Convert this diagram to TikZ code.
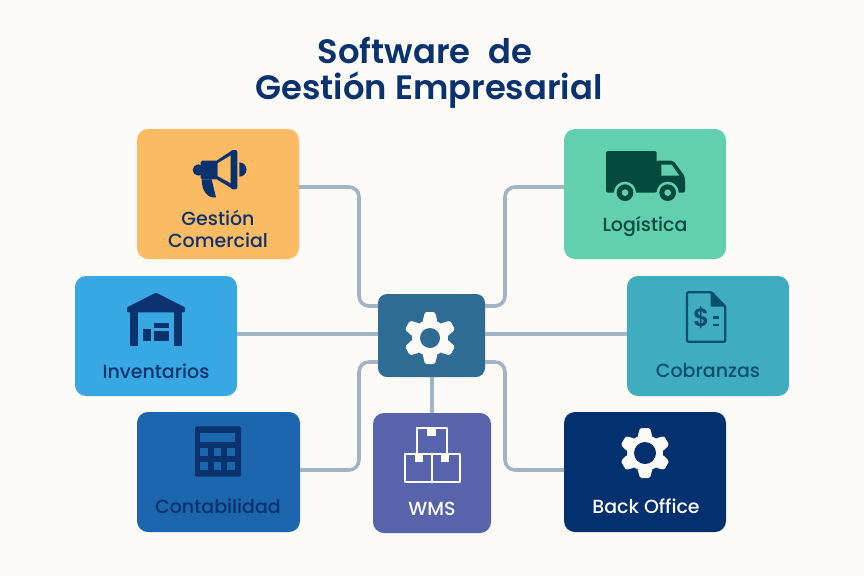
\documentclass[tikz,border=0pt]{standalone}
\usepackage{fontspec}
\setmainfont{Poppins Medium}
\newfontfamily\titlefont{Poppins SemiBold}
\definecolor{bgc}{HTML}{FDFBF7}
\definecolor{navy}{HTML}{0A326E}
\definecolor{linkc}{HTML}{A3B4C5}
\definecolor{ccom}{HTML}{FDBB63}
\definecolor{clog}{HTML}{62D0AE}
\definecolor{cinv}{HTML}{38A8E3}
\definecolor{ccob}{HTML}{40ACBF}
\definecolor{ccon}{HTML}{1C66AE}
\definecolor{cbak}{HTML}{03306F}
\definecolor{cwms}{HTML}{5763AA}
\definecolor{ccen}{HTML}{2F6C93}
\definecolor{dgreen}{HTML}{054A3C}
\definecolor{dteal}{HTML}{0B4F6E}
\definecolor{white2}{HTML}{FDFBF7}
\tikzset{
  boxn/.style={rounded corners=11pt,inner sep=0pt,outer sep=0pt,fill=#1},
  link/.style={draw=linkc,line width=3.6pt,rounded corners=10pt},
  lab/.style={font=\fontsize{19}{22}\selectfont,inner sep=0pt,text=#1,align=center},
  ttl/.style={font=\titlefont\fontsize{33.8}{40}\selectfont,inner sep=0pt,text=navy,align=center}
}
\newcommand{\gearicon}[7]{% x y outer body hole colour holecolour
  \begin{scope}[shift={(#1,#2)}]
    \fill[#6] (0,0) circle[radius=#4];
    \foreach \a in {30,90,150,210,270,330}{
      \fill[#6,rounded corners=1.5pt,rotate=\a] (#4-2,-7.5) -- (#3,-5) -- (#3,5) -- (#4-2,7.5) -- cycle;
    }
    \fill[#7] (0,0) circle[radius=#5];
  \end{scope}}
\begin{document}
\begin{tikzpicture}[x=1pt,y=-1pt]
\useasboundingbox (0,0) rectangle (864,576);
\fill[bgc] (0,0) rectangle (864,576);

\path
 (218,194) node[boxn=ccom,minimum width=162pt,minimum height=130pt] (com) {}
 (645,194) node[boxn=clog,minimum width=162pt,minimum height=130pt] (log) {}
 (156,336) node[boxn=cinv,minimum width=162pt,minimum height=120pt] (inv) {}
 (708,336) node[boxn=ccob,minimum width=162pt,minimum height=120pt] (cob) {}
 (218.5,472) node[boxn=ccon,minimum width=163pt,minimum height=120pt] (con) {}
 (645,472) node[boxn=cbak,minimum width=162pt,minimum height=120pt] (bak) {}
 (432,473) node[boxn=cwms,minimum width=118pt,minimum height=120pt] (wms) {}
 (431.5,335.5) node[boxn=ccen,minimum width=107pt,minimum height=83pt,rounded corners=9pt] (cen) {};

% connectors
\coordinate (tl) at (359,187);
\coordinate (tr) at (505,187);
\coordinate (bl) at (359,470);
\coordinate (br) at (505,470);
\draw[link] (com.east |- tl) -- (tl) -- (tl |- 0,306) -- (cen.west |- 0,306);
\draw[link] (log.west |- tr) -- (tr) -- (tr |- 0,306) -- (cen.east |- 0,306);
\draw[link] (inv.east |- 0,334) -- (cen.west |- 0,334);
\draw[link] (cob.west |- 0,334) -- (cen.east |- 0,334);
\draw[link] (con.east |- bl) -- (bl) -- (bl |- 0,362) -- (cen.west |- 0,362);
\draw[link] (bak.west |- br) -- (br) -- (br |- 0,362) -- (cen.east |- 0,362);
\draw[link] (cen.south -| 432,0) -- (wms.north);

% title
\node[ttl] (t1) at (425,50) {Software\hspace{10pt} de};
\node[ttl] (t2) at (429,90) {Gestión Empresarial};

% labels
\node[lab=navy] (lcom1) at (218,218) {Gestión};
\node[lab=navy] (lcom2) at (218,240) {Comercial};
\node[lab=dgreen] (llog) at (645,226.5) {Logística};
\node[lab=navy] (linv) at (156,371) {Inventarios};
\node[lab=dteal] (lcob) at (708,371) {Cobranzas};
\node[lab=navy] (lcon) at (218,506) {Contabilidad};
\node[lab=white2] (lwms) at (432,509) {WMS};
\node[lab=white2] (lbak) at (646,506) {Back Office};

% gears
\gearicon{430}{338}{26}{18}{10}{white2}{ccen}
\gearicon{645}{453}{25}{18}{11}{white2}{cbak}

% megaphone
\begin{scope}[shift={(130,120)},scale=0.33333]
  \fill[navy,rounded corners=1.5pt] (212,122) -- (262,122) -- (262,178) -- (212,178) -- cycle;
  \fill[navy] (205,150) circle[radius=17];
  \fill[navy,even odd rule] (255,125) -- (305,92) -- (305,205) -- (255,175) -- cycle (262,130) -- (302,106) -- (302,190) -- (262,168) -- cycle;
  \fill[navy,rounded corners=2pt] (303,90) rectangle (322,208);
  \fill[navy] (328,127) arc[start angle=-90,end angle=90,radius=21.5] -- cycle;
  \fill[navy] (215,178) -- (245,178) -- (258,232) .. controls (235,236) and (215,215) .. (215,178) -- cycle;
\end{scope}

% truck
\begin{scope}[shift={(560,120)},scale=0.33333]
  \fill[dgreen,rounded corners=1.5pt] (138,93) -- (290,93) -- (290,218) -- (138,218) -- cycle;
  \fill[dgreen,rounded corners=2pt] (288,122) -- (340,122) -- (375,170) -- (375,218) -- (288,218) -- cycle;
  \fill[clog] (304,134) -- (335,134) -- (358,167) -- (304,167) -- cycle;
  \foreach \c in {195,323}{
    \fill[clog] (\c,218) circle[radius=33];
    \fill[dgreen] (\c,218) circle[radius=25];
    \fill[clog] (\c,218) circle[radius=10];
  }
\end{scope}

% warehouse
\begin{scope}[shift={(70,270)},scale=0.33333]
  \fill[navy,rounded corners=1pt] (258,68) -- (345,112) -- (345,127) -- (171,127) -- (171,112) -- cycle;
  \fill[navy] (181,125) rectangle (205,228);
  \fill[navy] (312,125) rectangle (335,228);
  \fill[navy] (219,178) rectangle (243,214);
  \fill[navy] (252,160) rectangle (297,175);
  \fill[navy] (252,182) rectangle (297,214);
\end{scope}

% invoice
\begin{scope}[shift={(560,120)},scale=0.33333]
  \draw[dteal,line width=2.2pt,rounded corners=1pt,line join=round] (381,517) -- (455,517) -- (496,560) -- (496,665) -- (381,665) -- cycle;
  \fill[dteal] (452,515) -- (499,560) -- (452,560) -- cycle;
  \node[inner sep=0pt,text=dteal,font=\titlefont\fontsize{25}{26}\selectfont] (dollar) at (424,592) {\$};
  \draw[dteal,line width=2.6pt] (458,592) -- (478,592) (458,615) -- (478,615);
\end{scope}

% calculator
\begin{scope}[shift={(70,270)},scale=0.33333]
  \fill[navy,rounded corners=2pt] (375,469) rectangle (513,620);
  \fill[ccon] (390,489) rectangle (496,515);
  \foreach \x/\w in {390/24,431/23,471/24}{
    \foreach \y in {533,575}{
      \fill[ccon] (\x,\y) rectangle ++(\w,25);
    }
  }
\end{scope}

% boxes icon
\begin{scope}[shift={(350,280)},scale=0.33333,draw=white2,fill=white2]
  \draw[line width=2.1pt,line join=round] (201,522) -- (201,445) -- (292,445) -- (292,522);
  \draw[line width=2.1pt,line join=round] (166,522) rectangle (247,605);
  \draw[line width=2.1pt,line join=round] (247,522) rectangle (329,605);
  \fill (232,445) rectangle (258,468);
  \fill (195,522) rectangle (220,545);
  \fill (272,522) rectangle (297,545);
\end{scope}
\end{tikzpicture}
\end{document}
